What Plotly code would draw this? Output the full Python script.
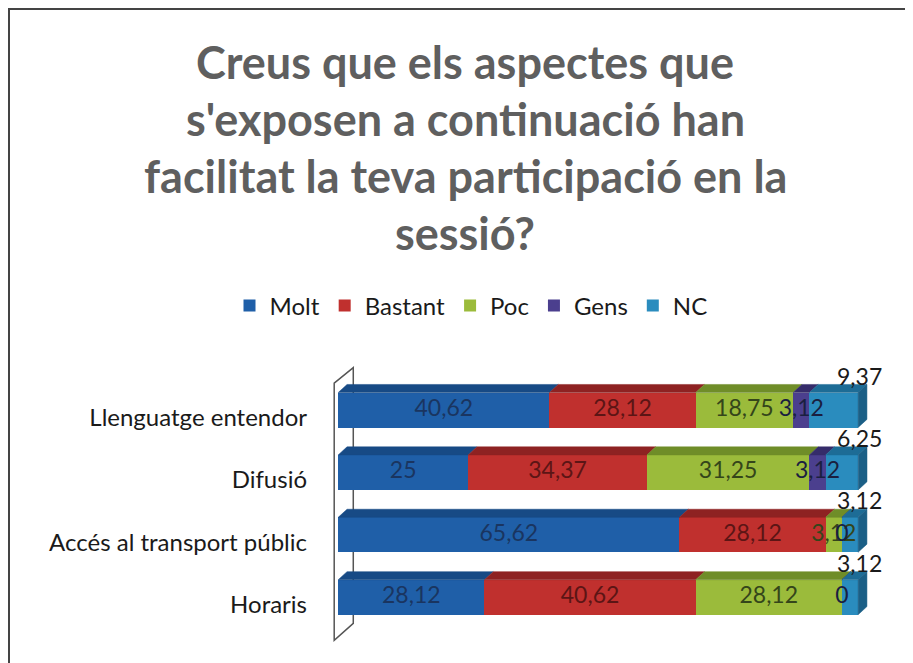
import plotly.graph_objects as go

# ---------------- data ----------------
categories = ["Llenguatge entendor", "Difusió", "Accés al transport públic", "Horaris"]
series_names = ["Molt", "Bastant", "Poc", "Gens", "NC"]
molt = [40.62, 25, 65.62, 28.12]
bastant = [28.12, 34.37, 28.12, 40.62]
poc = [18.75, 31.25, 3.12, 28.12]
gens = [3.12, 3.12, 0, 0]
nc = [9.37, 6.25, 3.12, 3.12]
title_lines = ["Creus que els aspectes que", "s'exposen a continuació han",
               "facilitat la teva participació en la", "sessió?"]

# ---------------- style ----------------
W, H = 913, 663
OFF = 8  # page body margin
front_colors = ["#1f5fa8", "#c0302e", "#9bbb3b", "#4b3f8e", "#2a8cbe"]
top_colors = ["#174a85", "#8e2222", "#6f8d28", "#352c6a", "#1d6c96"]
side_color = "#1b5f86"
text_colors = ["#1a3560", "#5c1515", "#34451a", "#1a1f40", "#1a3550"]
FONT = "Lato"

L_M, R_M, T_M, B_M = 325, 42, 349, 27
X_RANGE = [-1, 104]
Y_RANGE = [-0.75, 3.85]
PLOT_W = W - L_M - R_M
PLOT_H = H - T_M - B_M

def paper_x(px):
    return (px - OFF - L_M) / PLOT_W

def paper_y(py):
    return 1 - (py - OFF - T_M) / PLOT_H

n = len(categories)
pos = [n - 1 - i for i in range(n)]  # top category at top
bar_h = 0.56
dx = 1.7    # depth in x units
dy = 0.13   # depth in y units

series = [molt, bastant, poc, gens, nc]

fig = go.Figure()

# front faces
for s, name in enumerate(series_names):
    fig.add_trace(go.Bar(
        y=pos, x=series[s], orientation="h", name=name, width=bar_h,
        marker=dict(color=front_colors[s], line=dict(width=0)),
        hoverinfo="x+name",
    ))

# top faces
starts = [[0.0] * n]
for s in range(len(series)):
    starts.append([starts[-1][i] + series[s][i] for i in range(n)])

for s in range(len(series)):
    xs, ys = [], []
    for i in range(n):
        x0, x1 = starts[s][i], starts[s + 1][i]
        yt = pos[i] + bar_h / 2
        xs += [x0, x1, x1 + dx, x0 + dx, x0, None]
        ys += [yt, yt, yt + dy, yt + dy, yt, None]
    fig.add_trace(go.Scatter(x=xs, y=ys, mode="lines", fill="toself",
                             fillcolor=top_colors[s], line=dict(width=0.5, color=top_colors[s]),
                             showlegend=False, hoverinfo="skip"))

# right side face of the whole stack
xs, ys = [], []
for i in range(n):
    xe = starts[-1][i]
    yb, yt = pos[i] - bar_h / 2, pos[i] + bar_h / 2
    xs += [xe, xe + dx, xe + dx, xe, xe, None]
    ys += [yb, yb + dy, yt + dy, yt, yb, None]
fig.add_trace(go.Scatter(x=xs, y=ys, mode="lines", fill="toself", fillcolor=side_color,
                         line=dict(width=0.5, color=side_color), showlegend=False, hoverinfo="skip"))

def fmt(v):
    return f"{v:g}".replace(".", ",")

# labels inside (all series except NC)
for s in range(len(series) - 1):
    fig.add_trace(go.Scatter(
        x=[starts[s][i] + series[s][i] / 2 for i in range(n)], y=pos,
        mode="text", text=[fmt(v) for v in series[s]],
        textfont=dict(family=FONT, size=23, color=text_colors[s]),
        showlegend=False, hoverinfo="skip", cliponaxis=False))

# NC labels above right end
fig.add_trace(go.Scatter(
    x=[starts[-1][i] + 0.3 for i in range(n)], y=[p + 0.5 for p in pos],
    mode="text", text=[fmt(v) for v in nc],
    textfont=dict(family=FONT, size=23, color="#1a1a1a"),
    showlegend=False, hoverinfo="skip", cliponaxis=False))

# title lines
title_py = [62, 119, 176, 233]
annotations = []
for t, py in zip(title_lines, title_py):
    annotations.append(dict(text=t, xref="paper", yref="paper", x=paper_x(465), y=paper_y(py),
                            xanchor="center", yanchor="middle", showarrow=False,
                            font=dict(family=FONT, size=45, color="#5f5f5f", weight="bold")))

shapes = [
    # back wall
    dict(type="path", xref="x", yref="y", layer="below",
         path="M -0.77,3.43 L 2.9,3.68 L 2.9,-0.42 L -0.77,-0.69 Z",
         line=dict(color="#555555", width=1.5), fillcolor="white"),
    # chart border
    dict(type="rect", xref="paper", yref="paper",
         x0=paper_x(9), x1=paper_x(930), y0=paper_y(680), y1=paper_y(9),
         line=dict(color="#444444", width=2), fillcolor="rgba(0,0,0,0)"),
]

fig.update_layout(
    width=W, height=H,
    margin=dict(l=L_M, r=R_M, t=T_M, b=B_M),
    paper_bgcolor="white", plot_bgcolor="white",
    barmode="stack", bargap=0,
    showlegend=True,
    legend=dict(orientation="h", x=paper_x(471), y=paper_y(306), xanchor="center", yanchor="middle",
                font=dict(family=FONT, size=24, color="#1a1a1a"), itemwidth=30,
                traceorder="normal", bgcolor="rgba(0,0,0,0)"),
    xaxis=dict(range=X_RANGE, showgrid=False, zeroline=False, showticklabels=False, showline=False),
    yaxis=dict(range=Y_RANGE, showgrid=False, zeroline=False, showline=False,
               tickvals=[p - 0.12 for p in pos], ticktext=categories, ticks="",
               ticklabelstandoff=25,
               tickfont=dict(family=FONT, size=24, color="#1a1a1a")),
    annotations=annotations,
    shapes=shapes,
    font=dict(family=FONT),
)

fig.write_html("out.html")
